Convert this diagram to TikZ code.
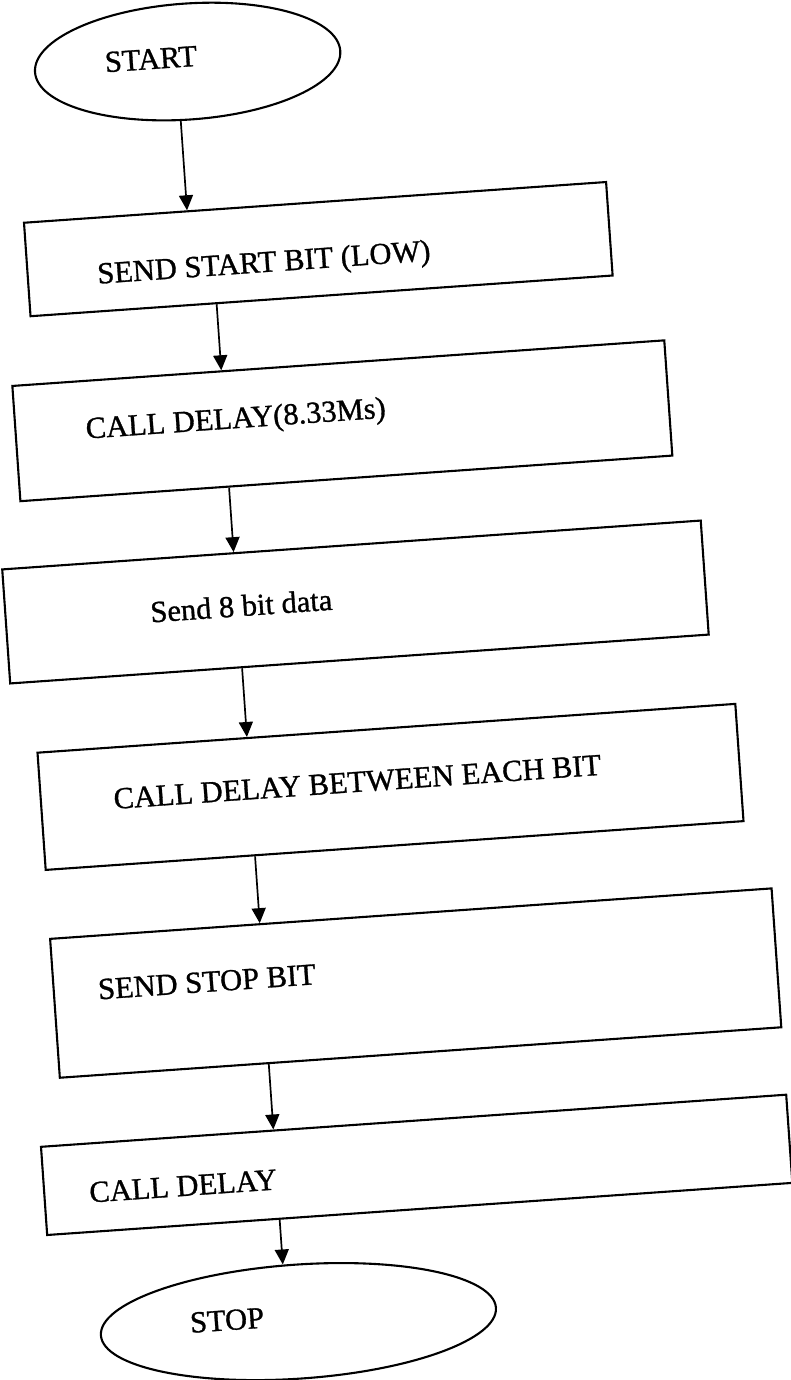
\documentclass[tikz,border=0pt]{standalone}
\usepackage{fontspec}
\setmainfont{Liberation Serif}[FakeBold=1]
\usetikzlibrary{shapes.geometric,arrows.meta}
\begin{document}
\begin{tikzpicture}[x=1pt,y=-1pt,
  terminal/.style={draw, ellipse, line width=2.1pt, inner sep=0pt},
  stepbox/.style={draw, rectangle, line width=2.1pt, inner sep=0pt},
  caption/.style={anchor=base, inner sep=0pt, font=\fontsize{30.5}{36}\selectfont},
  flow/.style={line width=1.7pt, -{Triangle[length=15pt,width=14pt]}}]
\useasboundingbox (0,0) rectangle (791,1380);
\fill[white] (0,0) rectangle (791,1380);
% the whole chart sits slightly tilted on the page
\begin{scope}[rotate around={4:(395,690)}, transform shape]
  % terminals and process boxes
  \node[terminal, minimum width=306pt, minimum height=116pt] (start) at (232,48.6) {};
  \node[stepbox, minimum width=583.5pt, minimum height=93.7pt]  (b1) at (349.25,244.85) {};
  \node[stepbox, minimum width=653.5pt, minimum height=115.5pt] (b2) at (361.25,417.75) {};
  \node[stepbox, minimum width=700.2pt, minimum height=114.3pt] (b3) at (361.7,599.45) {};
  \node[stepbox, minimum width=699.5pt, minimum height=117.5pt] (b4) at (383.75,786.35) {};
  \node[stepbox, minimum width=723.2pt, minimum height=139.2pt] (b5) at (395.2,983.8) {};
  \node[stepbox, minimum width=747pt,   minimum height=88.4pt]  (b6) at (383.5,1165.2) {};
  \node[terminal, minimum width=396pt, minimum height=114pt] (stop) at (254.6,1313.3) {};

  % texts
  \node[caption] (tstart) at (195.6,53.6)  {START};
  \node[caption] (t1)     at (294,264)     {SEND START BIT (LOW)};
  \node[caption] (t2)     at (255,417.7)   {CALL DELAY(8.33Ms)};
  \node[caption] (t3)     at (247.5,605.6) {Send 8 bit data};
  \node[caption] (t4)     at (351,789)     {CALL DELAY BETWEEN EACH BIT};
  \node[caption] (t5)     at (187,978)     {SEND STOP BIT};
  \node[caption] (t6)     at (149,1180)    {CALL DELAY};
  \node[caption] (tstop)  at (183.5,1317)  {STOP};

  % connectors
  \draw[flow] ([xshift=-11pt]start.south) -- ([xshift=-128.25pt]b1.north);
  \draw[flow] ([xshift=-105.25pt]b1.south) -- ([xshift=-117.25pt]b2.north);
  \draw[flow] ([xshift=-117.65pt]b2.south) -- ([xshift=-118.1pt]b3.north);
  \draw[flow] ([xshift=-117.7pt]b3.south) -- ([xshift=-139.75pt]b4.north);
  \draw[flow] ([xshift=-139.95pt]b4.south) -- ([xshift=-151.4pt]b5.north);
  \draw[flow] ([xshift=-152.2pt]b5.south) -- ([xshift=-140.5pt]b6.north);
  \draw[flow] ([xshift=-140.5pt]b6.south) -- ([xshift=-11.6pt]stop.north);
\end{scope}
\end{tikzpicture}
\end{document}
